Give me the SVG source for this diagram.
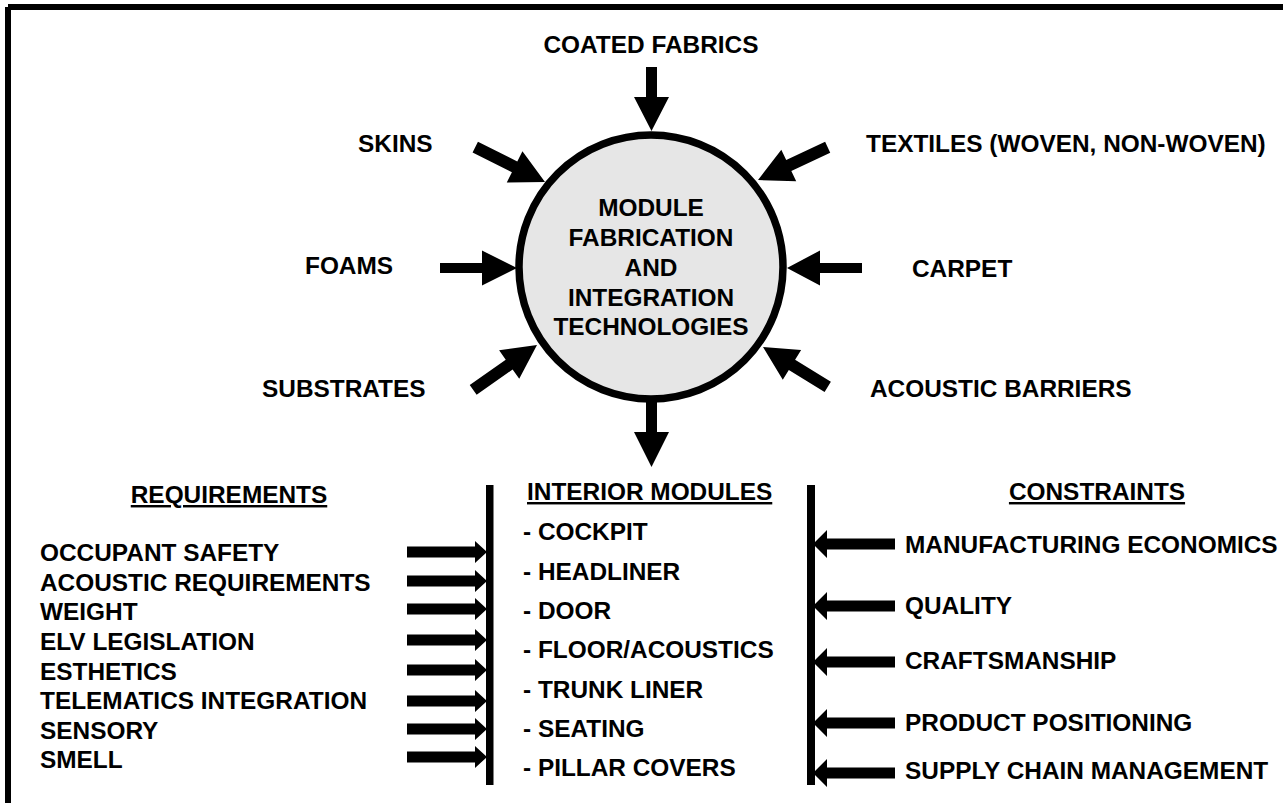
<svg xmlns="http://www.w3.org/2000/svg" width="1283" height="803" viewBox="0 0 1283 803">
<style>
text{font-family:"Liberation Sans",Arial,sans-serif;font-weight:bold;font-size:24.4px;fill:#000}
.u{text-decoration:underline}
.m{text-anchor:middle}
.ar{fill:#000}
</style>
<defs>
<path id="big" d="M0 0 L-34 -17.5 V-5.5 H-80 V5.5 H-34 V17.5 Z"/>
</defs>
<rect width="1283" height="803" fill="#fff"/>
<g id="frame" fill="#000">
<rect x="8" y="4" width="1275" height="6"/>
<rect x="5" y="7" width="6" height="796"/>
</g>
<g id="hub">
<circle cx="651" cy="267" r="132" fill="#e6e6e6" stroke="#000" stroke-width="7.5"/>
<text class="m" x="651" y="216">MODULE</text>
<text class="m" x="651" y="246">FABRICATION</text>
<text class="m" x="651" y="276">AND</text>
<text class="m" x="651" y="306">INTEGRATION</text>
<text class="m" x="651" y="335">TECHNOLOGIES</text>
</g>
<g id="inputs">
<text class="m" x="651" y="53">COATED FABRICS</text>
<text x="358" y="152">SKINS</text>
<text x="866" y="152">TEXTILES (WOVEN, NON-WOVEN)</text>
<text x="305" y="274">FOAMS</text>
<text x="912" y="277">CARPET</text>
<text x="262" y="397">SUBSTRATES</text>
<text x="870" y="397">ACOUSTIC BARRIERS</text>
</g>
<g id="connectors" class="ar">
<path d="M651.5 131 L634 97 H646 V67 H657 V97 H669 Z"/>
<path d="M651.5 467 L634 432 H646 V400 H657 V432 H669 Z"/>
<g transform="translate(545,182) rotate(26.6)"><path d="M0 0 L-34 -17.5 V-6 H-78 V6 H-34 V17.5 Z"/></g>
<g transform="translate(758,180) rotate(154.8)"><path d="M0 0 L-34 -17.5 V-6 H-77 V6 H-34 V17.5 Z"/></g>
<g transform="translate(537,345) rotate(-35.1)"><path d="M0 0 L-34 -17.5 V-6 H-78 V6 H-34 V17.5 Z"/></g>
<g transform="translate(763,347) rotate(-148.4)"><path d="M0 0 L-34 -17.5 V-6 H-76 V6 H-34 V17.5 Z"/></g>
<path d="M517 268 L482 250.5 V263 H440 V273 H482 V285.5 Z"/>
<path d="M787 268 L820 250.5 V263 H862 V273 H820 V285.5 Z"/>
<rect x="486" y="485" width="7.5" height="300"/>
<rect x="807" y="485" width="8" height="300"/>
<path d="M487 552 L475 541 V546.5 H407 V557.5 H475 V563 Z"/>
<path d="M487 581 L475 570 V575.5 H407 V586.5 H475 V592 Z"/>
<path d="M487 609 L475 598 V603.5 H407 V614.5 H475 V620 Z"/>
<path d="M487 640 L475 629 V634.5 H407 V645.5 H475 V651 Z"/>
<path d="M487 670 L475 659 V664.5 H407 V675.5 H475 V681 Z"/>
<path d="M487 701 L475 690 V695.5 H407 V706.5 H475 V712 Z"/>
<path d="M487 729 L475 718 V723.5 H407 V734.5 H475 V740 Z"/>
<path d="M487 757 L475 746 V751.5 H407 V762.5 H475 V768 Z"/>
<path d="M813 544 L827 530 V538.5 H895 V549.5 H827 V558 Z"/>
<path d="M813 606 L827 592 V600.5 H895 V611.5 H827 V620 Z"/>
<path d="M813 662 L827 648 V656.5 H895 V667.5 H827 V676 Z"/>
<path d="M813 723 L827 709 V717.5 H895 V728.5 H827 V737 Z"/>
<path d="M813 773 L827 759 V767.5 H895 V778.5 H827 V787 Z"/>
</g>
<g id="requirements">
<text class="u m" x="229" y="503">REQUIREMENTS</text>
<text x="40" y="561">OCCUPANT SAFETY</text>
<text x="40" y="590.5">ACOUSTIC REQUIREMENTS</text>
<text x="40" y="620">WEIGHT</text>
<text x="40" y="650">ELV LEGISLATION</text>
<text x="40" y="679.5">ESTHETICS</text>
<text x="40" y="709">TELEMATICS INTEGRATION</text>
<text x="40" y="738.5">SENSORY</text>
<text x="40" y="768">SMELL</text>
</g>
<g id="modules">
<text class="u" x="527" y="500">INTERIOR MODULES</text>
<text x="523" y="540">- COCKPIT</text>
<text x="523" y="579.5">- HEADLINER</text>
<text x="523" y="619">- DOOR</text>
<text x="523" y="658">- FLOOR/ACOUSTICS</text>
<text x="523" y="697.5">- TRUNK LINER</text>
<text x="523" y="737">- SEATING</text>
<text x="523" y="776">- PILLAR COVERS</text>
</g>
<g id="constraints">
<text class="u m" x="1097" y="500">CONSTRAINTS</text>
<text x="905" y="553">MANUFACTURING ECONOMICS</text>
<text x="905" y="614">QUALITY</text>
<text x="905" y="669">CRAFTSMANSHIP</text>
<text x="905" y="731">PRODUCT POSITIONING</text>
<text x="905" y="779">SUPPLY CHAIN MANAGEMENT</text>
</g>
</svg>
